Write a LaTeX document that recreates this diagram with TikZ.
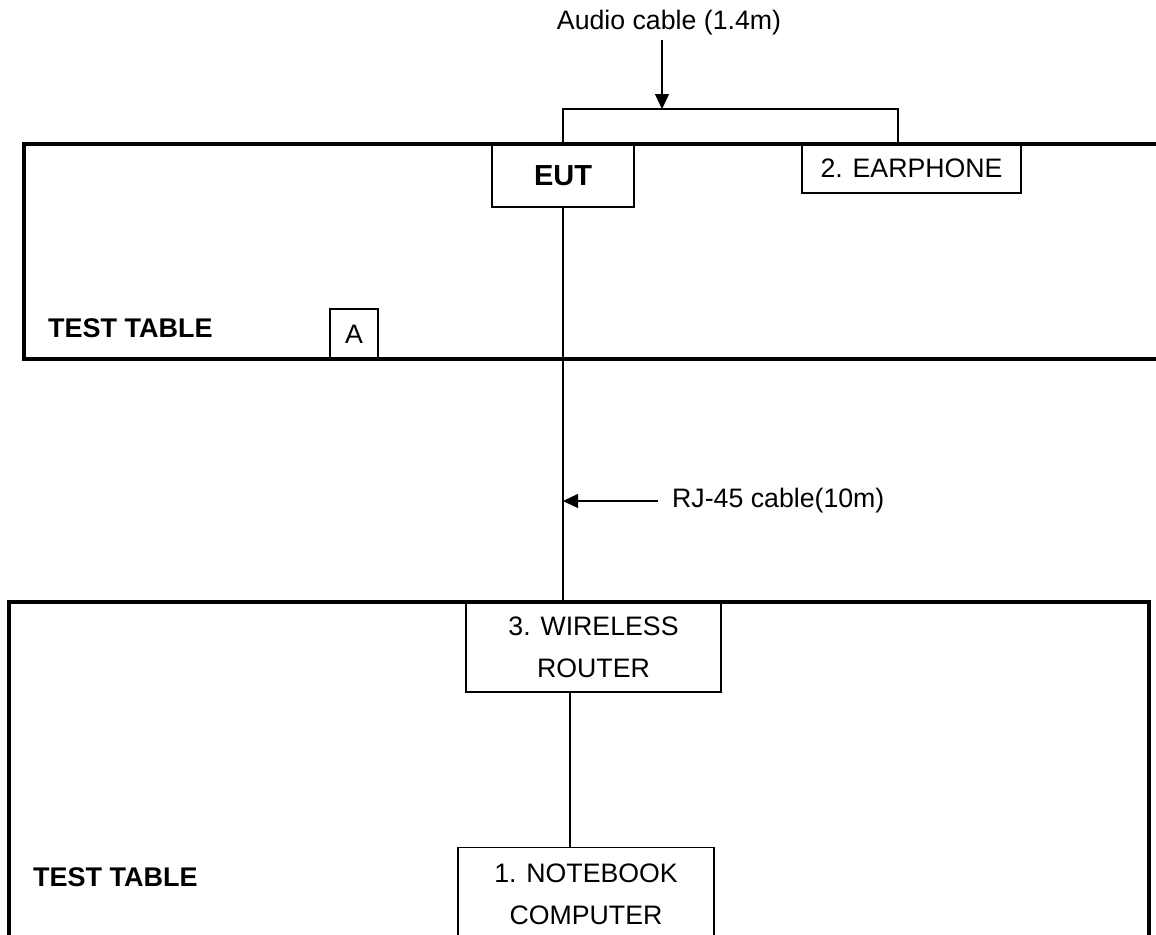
\documentclass[tikz,border=0pt]{standalone}
\usepackage{fontspec}
\setmainfont{Liberation Sans}
\usetikzlibrary{arrows.meta}
\begin{document}
\begin{tikzpicture}[x=1pt,y=-1pt,
  thin line/.style={line width=1.3pt},
  table line/.style={line width=4pt},
  box/.style={draw,thin line,inner sep=0pt,align=center,font=\fontsize{26.7}{42}\selectfont},
  lbl/.style={inner sep=0pt,font=\fontsize{26.7}{42}\selectfont},
  boldlbl/.style={inner sep=0pt,font=\fontsize{27}{42}\selectfont\bfseries},
  arr/.style={thin line,-{Triangle[length=15pt,width=14pt]}}]
\useasboundingbox (0,0) rectangle (1156,934);
\clip (0,0) rectangle (1156,934);
% tables
\draw[table line] (1170,144) -- (24,144) -- (24,359) -- (1170,359);
\draw[table line] (9,950) -- (9,602) -- (1149,602) -- (1149,950);
% devices
\node[box,minimum width=142pt,minimum height=63pt,font=\fontsize{29}{42}\selectfont\bfseries] (eut) at (563,175.5) {EUT};
\node[box,minimum width=219pt,minimum height=49pt] (ear) at (911.5,168.5) {2. EARPHONE};
\node[box,minimum width=48pt,minimum height=50pt] (a) at (354,334) {A};
\node[box,minimum width=255pt,minimum height=90pt] (router) at (593.5,647) {3. WIRELESS\\ROUTER};
\node[box,minimum width=256pt,anchor=north,inner ysep=16.4pt] (nb) at (586,847) {1. NOTEBOOK\\COMPUTER};
% labels
\node[boldlbl,anchor=west] (tt1) at (48,328) {TEST TABLE};
\node[boldlbl,anchor=west] (tt2) at (33,877.5) {TEST TABLE};
\node[lbl] (aud) at (669,23) {Audio cable (1.4m)};
\node[lbl,anchor=west] (rj) at (672,501) {RJ-45 cable(10m)};
% connectors
\coordinate (earin) at (898,144);
\coordinate (audtip) at (662,109);
\draw[thin line] (eut.north) |- (audtip) -| (earin);
\draw[arr] (aud.south -| audtip) ++(0,4) -- (audtip);
\draw[thin line] (eut.south) -- (eut.south |- router.north);
\draw[arr] ([xshift=-14pt]rj.west) -- (eut.south |- rj.west);
\coordinate (rout) at ([xshift=-23.5pt]router.south);
\draw[thin line] (rout) -- (rout |- nb.north);
\end{tikzpicture}
\end{document}
